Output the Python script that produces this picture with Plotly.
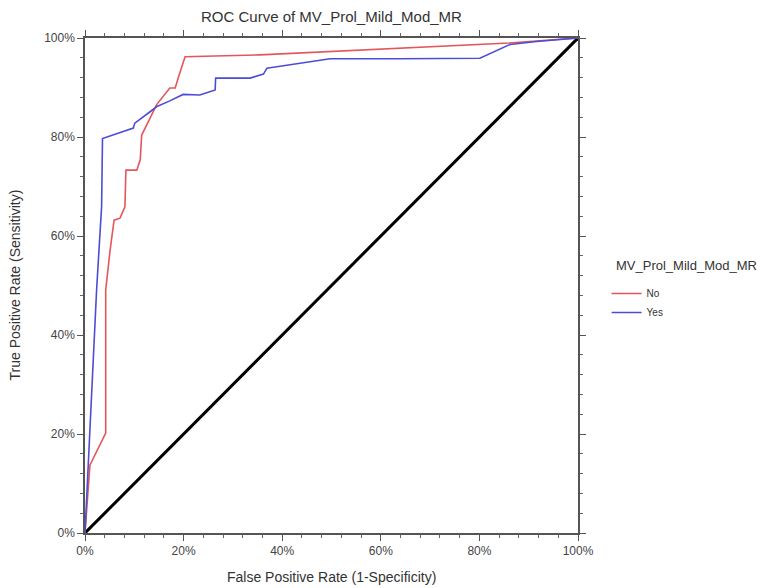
import plotly.graph_objects as go

# ROC curve data
no_fpr = [0, 0.010, 0.042, 0.042, 0.051, 0.059, 0.071, 0.081, 0.083, 0.105, 0.112,
          0.115, 0.132, 0.145, 0.172, 0.183, 0.189, 0.203, 0.355, 0.640, 0.860, 1.0]
no_tpr = [0, 0.137, 0.202, 0.491, 0.572, 0.632, 0.636, 0.659, 0.733, 0.733, 0.754,
          0.804, 0.838, 0.865, 0.899, 0.899, 0.919, 0.962, 0.966, 0.979, 0.990, 1.0]

yes_fpr = [0, 0.0235, 0.0337, 0.0355, 0.098, 0.101, 0.132, 0.145, 0.172, 0.199, 0.233,
           0.264, 0.265, 0.335, 0.362, 0.369, 0.389, 0.497, 0.639, 0.801, 0.862, 0.916, 1.0]
yes_tpr = [0, 0.491, 0.659, 0.797, 0.818, 0.828, 0.851, 0.861, 0.873, 0.886, 0.885,
           0.895, 0.919, 0.919, 0.927, 0.939, 0.942, 0.958, 0.958, 0.959, 0.987, 0.993, 1.0]

diag = [0, 1]
tick_vals = [0, 0.2, 0.4, 0.6, 0.8, 1.0]
tick_text = ["0%", "20%", "40%", "60%", "80%", "100%"]

FONT = "Liberation Sans, Arial, Helvetica, sans-serif"
PLOT_TOP, PLOT_BOTTOM, PLOT_LEFT = 38, 533, 85
PLOT_H = PLOT_BOTTOM - PLOT_TOP

fig = go.Figure()
fig.add_trace(go.Scatter(x=diag, y=diag, mode="lines", showlegend=False,
                         line=dict(color="black", width=3)))
fig.add_trace(go.Scatter(x=no_fpr, y=no_tpr, mode="lines", name="No",
                         line=dict(color="#E5565C", width=1.6)))
fig.add_trace(go.Scatter(x=yes_fpr, y=yes_tpr, mode="lines", name="Yes",
                         line=dict(color="#4C4CD8", width=1.6)))

axis_common = dict(
    range=[0, 1], tickvals=tick_vals, ticktext=tick_text,
    showgrid=False, zeroline=False, showline=True, linecolor="#555555", linewidth=1.5,
    ticks="outside", ticklen=6, tickwidth=1.2, tickcolor="#555555", mirror="ticks",
    tickfont=dict(family=FONT, size=12, color="#444444"),
    minor=dict(dtick=0.04, ticks="outside", ticklen=3, tickwidth=1, tickcolor="#666666"),
    fixedrange=True, automargin=False,
)

fig.update_layout(
    width=761, height=588,
    margin=dict(l=PLOT_LEFT, r=183, t=PLOT_TOP, b=588 - PLOT_BOTTOM),
    plot_bgcolor="white", paper_bgcolor="white",
    font=dict(family=FONT, color="#333333"),
    xaxis=dict(**axis_common),
    yaxis=dict(**axis_common),
    legend=dict(
        x=1.058, y=(PLOT_BOTTOM - 279) / PLOT_H, xanchor="left", yanchor="top",
        font=dict(family=FONT, size=10, color="#333333"),
        bgcolor="rgba(0,0,0,0)", itemwidth=30, tracegroupgap=0,
    ),
    annotations=[
        dict(text="ROC Curve of MV_Prol_Mild_Mod_MR", x=0.5, y=1, xref="paper", yref="paper",
             xanchor="center", yanchor="middle", yshift=PLOT_TOP - 16, showarrow=False,
             font=dict(family=FONT, size=15, color="#333333")),
        dict(text="False Positive Rate (1-Specificity)", x=0.5, y=0, xref="paper", yref="paper",
             xanchor="center", yanchor="middle", yshift=-(577 - PLOT_BOTTOM), showarrow=False,
             font=dict(family=FONT, size=14, color="#333333")),
        dict(text="True Positive Rate (Sensitivity)", x=0, y=0.5, xref="paper", yref="paper",
             xanchor="center", yanchor="middle", xshift=14 - PLOT_LEFT, textangle=-90,
             showarrow=False, font=dict(family=FONT, size=14, color="#333333")),
        dict(text="MV_Prol_Mild_Mod_MR", x=1, y=(PLOT_BOTTOM - 265) / PLOT_H,
             xref="paper", yref="paper", xanchor="left", yanchor="middle",
             xshift=614 - 578, showarrow=False,
             font=dict(family=FONT, size=13, color="#333333")),
    ],
)

fig.write_html("out.html", config={"displayModeBar": False},
               post_script="document.body.style.margin='0px';")
